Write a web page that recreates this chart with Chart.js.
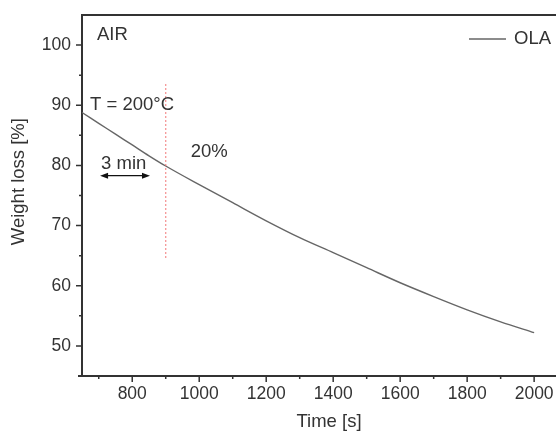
<!DOCTYPE html>
<html>
<head>
<meta charset="utf-8">
<script src="https://cdn.jsdelivr.net/npm/chart.js@4.4.1/dist/chart.umd.min.js"></script>
<style>
  html, body { margin: 0; padding: 0; background: #fff; overflow: hidden; width: 556px; height: 437px; }
  #box { width: 600px; height: 437px; }
</style>
</head>
<body>
<div id="box"><canvas id="tgaChart"></canvas></div>
<script>
// time [s] and weight [%]
const timeSec = [650, 700, 750, 800, 850, 900, 1000, 1100, 1200, 1300, 1400, 1500, 1600, 1700, 1800, 1900, 2000];
const weightOLA = [88.8, 87.0, 85.2, 83.4, 81.6, 79.9, 76.8, 73.8, 70.8, 68.0, 65.5, 63.0, 60.5, 58.2, 56.0, 54.0, 52.2];
const xTicks = [700, 800, 900, 1000, 1100, 1200, 1300, 1400, 1500, 1600, 1700, 1800, 1900, 2000, 2100];
const yTicks = [50, 55, 60, 65, 70, 75, 80, 85, 90, 95, 100];
const markerTime = 900;          // dotted red line
const markerRange = [64.3, 93.5];
const arrowSpan = [704, 853];    // "3 min" arrow
const arrowLevel = 78.3;

const FONT = '"Liberation Sans", Arial, sans-serif';
const INK = '#333';

const decorations = {
    id: 'decorations',
    afterDraw(chart) {
        const { ctx, chartArea: a, scales: { x, y } } = chart;
        ctx.save();

        // frame: top line + tick marks
        ctx.strokeStyle = INK;
        ctx.lineWidth = 2;
        ctx.beginPath();
        ctx.moveTo(a.left - 1, a.top);
        ctx.lineTo(a.right, a.top);
        ctx.moveTo(a.left - 4, a.bottom);
        ctx.lineTo(a.left, a.bottom);
        ctx.stroke();

        ctx.lineWidth = 1.5;
        ctx.beginPath();
        xTicks.forEach(v => {
            const px = x.getPixelForValue(v);
            const len = v % 200 === 0 ? 6 : 3;
            ctx.moveTo(px, a.bottom);
            ctx.lineTo(px, a.bottom + len);
        });
        yTicks.forEach(v => {
            const py = y.getPixelForValue(v);
            const len = v % 10 === 0 ? 6 : 3;
            ctx.moveTo(a.left, py);
            ctx.lineTo(a.left - len, py);
        });
        ctx.stroke();

        // red dotted marker
        const mx = x.getPixelForValue(markerTime);
        ctx.strokeStyle = '#f06a6a';
        ctx.lineWidth = 1.2;
        ctx.setLineDash([1.5, 2.5]);
        ctx.beginPath();
        ctx.moveTo(mx, y.getPixelForValue(markerRange[1]));
        ctx.lineTo(mx, y.getPixelForValue(markerRange[0]));
        ctx.stroke();
        ctx.setLineDash([]);

        // double arrow
        const ax1 = x.getPixelForValue(arrowSpan[0]);
        const ax2 = x.getPixelForValue(arrowSpan[1]);
        const ay = y.getPixelForValue(arrowLevel);
        ctx.strokeStyle = '#111';
        ctx.fillStyle = '#111';
        ctx.lineWidth = 1.3;
        ctx.beginPath();
        ctx.moveTo(ax1 + 4, ay);
        ctx.lineTo(ax2 - 4, ay);
        ctx.stroke();
        ctx.beginPath();
        ctx.moveTo(ax1, ay); ctx.lineTo(ax1 + 8, ay - 3); ctx.lineTo(ax1 + 8, ay + 3); ctx.closePath();
        ctx.moveTo(ax2, ay); ctx.lineTo(ax2 - 8, ay - 3); ctx.lineTo(ax2 - 8, ay + 3); ctx.closePath();
        ctx.fill();

        // text labels
        ctx.fillStyle = INK;
        ctx.font = '18.5px ' + FONT;
        ctx.textBaseline = 'middle';
        ctx.textAlign = 'left';
        ctx.fillText('AIR', a.left + 15, a.top + 20);
        ctx.fillText('T = 200°C', a.left + 8, y.getPixelForValue(90));
        ctx.fillText('20%', mx + 25, a.top + 137);
        ctx.fillText('3 min', ax1 + 1, ay - 12);

        // legend
        const ds = chart.data.datasets[0];
        ctx.strokeStyle = ds.borderColor;
        ctx.lineWidth = 1.3;
        ctx.beginPath();
        ctx.moveTo(469, a.top + 24);
        ctx.lineTo(506, a.top + 24);
        ctx.stroke();
        ctx.fillText(ds.label, 514, a.top + 24);

        ctx.restore();
    }
};

new Chart(document.getElementById('tgaChart'), {
    type: 'line',
    data: {
        datasets: [{
            label: 'OLA',
            data: timeSec.map((t, i) => ({ x: t, y: weightOLA[i] })),
            borderColor: '#666',
            borderWidth: 1.4,
            pointRadius: 0,
            cubicInterpolationMode: 'monotone',
            fill: false
        }]
    },
    options: {
        responsive: true,
        maintainAspectRatio: false,
        animation: false,
        layout: { padding: { top: 15, right: 24, left: 0, bottom: 0 } },
        plugins: { legend: { display: false }, tooltip: { enabled: false } },
        scales: {
            x: {
                type: 'linear',
                min: 650,
                max: 2125,
                afterBuildTicks: s => { s.ticks = xTicks.map(v => ({ value: v })); },
                afterFit: s => { s.height = 61; s.paddingLeft = 0; s.paddingRight = 0; },
                grid: { display: false, drawTicks: false },
                border: { display: true, color: INK, width: 2 },
                ticks: {
                    color: INK,
                    padding: 8,
                    font: { family: FONT, size: 17.5 },
                    maxRotation: 0,
                    autoSkip: false,
                    callback: v => (v % 200 === 0 && v <= 2000 ? String(v) : '')
                },
                title: {
                    display: true,
                    text: 'Time [s]',
                    color: INK,
                    font: { family: FONT, size: 18.5 },
                    padding: { top: 4 }
                }
            },
            y: {
                min: 45,
                max: 105,
                afterBuildTicks: s => { s.ticks = yTicks.map(v => ({ value: v })); },
                afterFit: s => { s.width = 82; s.paddingTop = 0; s.paddingBottom = 0; },
                grid: { display: false, drawTicks: false },
                border: { display: true, color: INK, width: 2 },
                ticks: {
                    color: INK,
                    padding: 11,
                    font: { family: FONT, size: 17.5 },
                    autoSkip: false,
                    callback: v => (v % 10 === 0 ? String(v) : '')
                },
                title: {
                    display: true,
                    text: '\u2002\u2002\u2002Weight loss [%]',
                    color: INK,
                    font: { family: FONT, size: 18.5 },
                    padding: { top: 8, bottom: 0 }
                }
            }
        }
    },
    plugins: [decorations]
});
</script>
</body>
</html>
